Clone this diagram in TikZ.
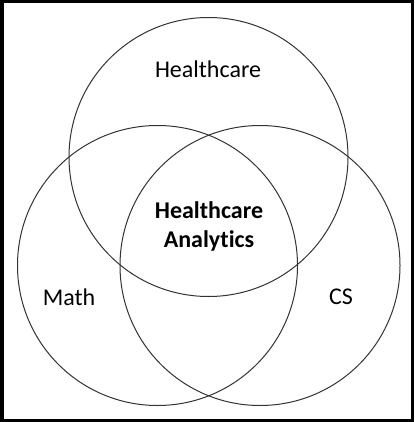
\documentclass[tikz,border=0pt]{standalone}
\usepackage{fontspec}
\setmainfont[Ligatures=NoCommon]{Carlito}

\begin{document}
\begin{tikzpicture}[x=1pt,y=-1pt,
		field/.style={draw=black!80,line width=1pt},
		lbl/.style={font=\fontsize{24}{28}\selectfont,align=center}]
		\useasboundingbox (0,0) rectangle (414,422);
		\draw[line width=3.5pt] (1.75,1.75) rectangle (412.25,420.25);
		% the three fields
		\coordinate (hc) at (208.5,157);
		\coordinate (ma) at (157.5,265.5);
		\coordinate (cs) at (260,265.5);
		\draw[field] (hc) circle (139.5);
		\draw[field] (ma) circle (140);
		\draw[field] (cs) circle (140);
		\node[lbl] (health) at (208,69) {Healthcare};
		\node[lbl] (math) at (69,297) {Math};
		\node[lbl] (cslbl) at (341,297) {CS};
		\node[lbl,font=\fontsize{24}{29}\selectfont\bfseries] (center) at (209,226) {Healthcare\\Analytics};
	\end{tikzpicture}
\end{document}
